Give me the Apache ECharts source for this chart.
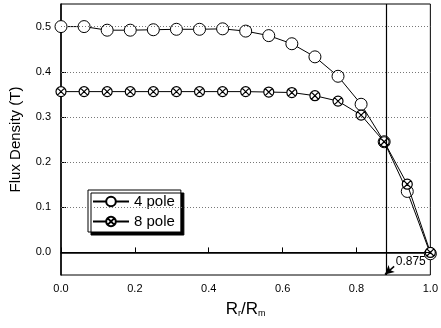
<!DOCTYPE html>
<html><head><meta charset="utf-8">
<script src="https://cdn.jsdelivr.net/npm/echarts@6/dist/echarts.min.js"></script>
<style>html,body{margin:0;padding:0;background:#fff}#c{width:441px;height:328px}</style>
</head><body><div id="c"></div>
<script>
const xValues = [0, 0.0625, 0.125, 0.1875, 0.25, 0.3125, 0.375, 0.4375, 0.5, 0.5625, 0.625, 0.6875, 0.75, 0.8125, 0.875, 0.9375, 1.0];
const pole4 = [0.5, 0.5, 0.492, 0.492, 0.493, 0.494, 0.494, 0.495, 0.49, 0.48, 0.462, 0.433, 0.39, 0.328, 0.245, 0.135, -0.003];
const pole8 = [0.356, 0.356, 0.356, 0.356, 0.356, 0.356, 0.356, 0.356, 0.356, 0.355, 0.354, 0.347, 0.335, 0.304, 0.245, 0.151, 0.0];
const yTicks = [0.0, 0.1, 0.2, 0.3, 0.4, 0.5];
const xTicks = [0.0, 0.2, 0.4, 0.6, 0.8, 1.0];
const gridLines = [0.1, 0.2, 0.3, 0.4, 0.5];
const cutoff = 0.875;

const font = 'Liberation Sans, Arial, sans-serif';
const crossCircle = 'path://M10,0A10,10 0 1,1 -10,0A10,10 0 1,1 10,0Z M-7.07,-7.07L7.07,7.07M-7.07,7.07L7.07,-7.07';

const chart = echarts.init(document.getElementById('c'));
chart.setOption({
  animation: false,
  grid: {left: 58, right: 8, top: 4, bottom: 53, show: true, borderColor: '#000', borderWidth: 1},
  legend: {
    orient: 'vertical', left: 88, top: 190, itemWidth: 36, itemHeight: 12, itemGap: 5,
    padding: [4, 6, 3, 4],
    backgroundColor: '#fff', borderColor: '#000', borderWidth: 1,
    shadowColor: '#000', shadowBlur: 0, shadowOffsetX: 3, shadowOffsetY: 3,
    textStyle: {fontFamily: font, fontSize: 15, color: '#000'},
    data: ['4 pole', '8 pole']
  },
  xAxis: {
    type: 'value', min: 0, max: 1,
    axisLine: {lineStyle: {color: '#000', width: 1.5}},
    axisTick: {inside: true, length: 5, lineStyle: {color: '#000'}, customValues: xTicks},
    axisLabel: {customValues: xTicks, formatter: v => v.toFixed(1), fontFamily: font, fontSize: 11, color: '#000', margin: 8},
    splitLine: {show: false},
    name: 'R{s|r}/R{s|m}', nameLocation: 'middle', nameGap: 26,
    nameTextStyle: {fontFamily: font, fontSize: 17, color: '#000', rich: {s: {fontSize: 9, verticalAlign: 'bottom', padding: [8, 0, 0, 0], fontFamily: font}}}
  },
  yAxis: {
    type: 'value', min: -0.05, max: 0.55,
    axisLine: {lineStyle: {color: '#000', width: 1.5}},
    axisTick: {inside: true, length: 5, lineStyle: {color: '#000'}, customValues: yTicks},
    axisLabel: {customValues: yTicks, formatter: v => v.toFixed(1), fontFamily: font, fontSize: 11, color: '#000', margin: 10},
    splitLine: {show: false},
    name: 'Flux Density (T)', nameLocation: 'middle', nameGap: 38,
    nameTextStyle: {fontFamily: font, fontSize: 15, color: '#000'}
  },
  series: [
    {
      name: '4 pole', type: 'line', data: xValues.map((x, i) => [x, pole4[i]]),
      symbol: 'circle', symbolSize: 12, z: 3,
      lineStyle: {color: '#000', width: 1},
      itemStyle: {color: '#fff', borderColor: '#000', borderWidth: 1},
      markLine: {
        silent: true, symbol: 'none', label: {show: false},
        data: [
          ...gridLines.map(v => ({yAxis: v, lineStyle: {color: '#777', type: [1, 2], width: 1}})),
          {yAxis: 0, lineStyle: {color: '#000', type: 'solid', width: 1.2}},
          {xAxis: cutoff, lineStyle: {color: '#000', type: 'solid', width: 1.2}}
        ]
      }
    },
    {
      name: '8 pole', type: 'line', data: xValues.map((x, i) => [x, pole8[i]]),
      symbol: crossCircle, symbolSize: 10, z: 4,
      lineStyle: {color: '#000', width: 1},
      itemStyle: {color: '#fff', borderColor: '#000', borderWidth: 1.2},
      markLine: {
        silent: true, symbol: ['none', 'arrow'], symbolSize: [7, 9],
        label: {show: false},
        lineStyle: {color: '#000', type: 'solid', width: 1.5},
        data: [[{coord: [0.902, -0.031]}, {coord: [0.877, -0.049]}]]
      },
      markPoint: {
        silent: true, symbol: 'rect', symbolSize: 1, itemStyle: {color: 'transparent'},
        label: {show: true, formatter: '0.875', fontFamily: font, fontSize: 12, color: '#000'},
        data: [{coord: [0.947, -0.02]}]
      }
    }
  ]
});
</script></body></html>
